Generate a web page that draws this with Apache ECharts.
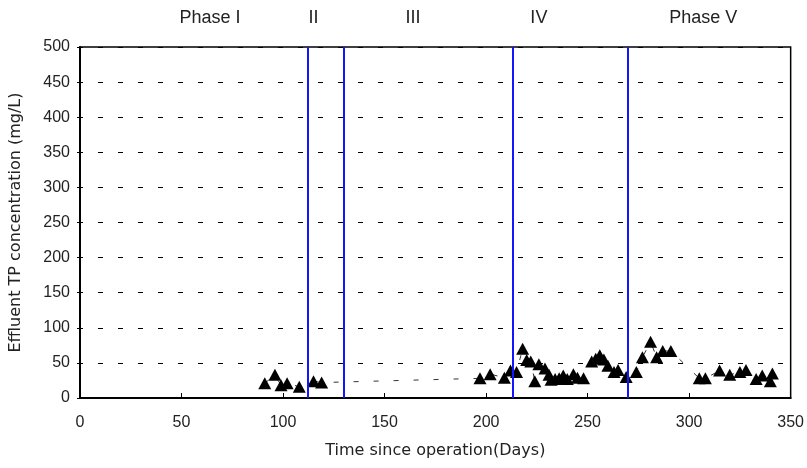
<!DOCTYPE html>
<html>
<head>
<meta charset="utf-8">
<script src="https://cdn.jsdelivr.net/npm/echarts@6/dist/echarts.min.js"></script>
<style>
html,body{margin:0;padding:0;background:#fff;}
#main{width:807px;height:468px;}
</style>
</head>
<body>
<div id="main"></div>
<script>
// Data (day, effluent TP mg/L)
var days = [91,96,99,102,108,115,119,
  197,202,209,212,215,218,220,222,224,226,229,231,232,234,236,238,240,243,245,248,
  252,254,256,258,260,263,265,269,274,277,281,284,287,291,
  305,308,315,320,325,328,333,336,340,341];
var tp = [21,33,18,21,16,24,22,
  28,34,29,39,37,70,54,52,24,48,42,33,26,27,28,32,27,34,29,28,
  52,56,61,55,46,37,40,30,37,58,80,58,67,67,
  28,28,39,33,37,40,27,32,24,35];
var phaseBoundaries = [112,130,213,270];
var phaseLabels = ['Phase I','II','III','IV','Phase V'];
var phaseLabelDays = [64,115,164,226,307];
var xTicks = [0,50,100,150,200,250,300,350];
var yTicks = [0,50,100,150,200,250,300,350,400,450,500];

var points = days.map(function(d,i){return [d,tp[i]];});

var chart = echarts.init(document.getElementById('main'), null, {renderer:'canvas'});
var option = {
  animation:false,
  backgroundColor:'#fff',
  grid:{left:77,right:14,top:47,bottom:70,show:true,borderColor:'#000',borderWidth:1.5,backgroundColor:'transparent'},
  xAxis:{
    type:'value',min:xTicks[0],max:xTicks[xTicks.length-1],interval:50,
    name:'Time since operation(Days)',nameLocation:'middle',nameGap:45,
    nameTextStyle:{fontFamily:'DejaVu Sans',fontSize:16,color:'#222'},
    axisLine:{show:true,onZero:false,lineStyle:{color:'#000',width:2}},
    axisTick:{show:true,inside:true,length:5,lineStyle:{color:'#000',width:1}},
    axisLabel:{fontFamily:'Liberation Sans',fontSize:16,color:'#222',margin:17},
    splitLine:{show:false}
  },
  yAxis:{
    type:'value',min:yTicks[0],max:yTicks[yTicks.length-1],interval:50,
    name:'Effluent TP concentration (mg/L)',nameLocation:'middle',nameGap:56,nameRotate:90,
    nameTextStyle:{fontFamily:'DejaVu Sans',fontSize:16,color:'#222'},
    axisLine:{show:true,lineStyle:{color:'#000',width:2}},
    axisTick:{show:true,inside:false,length:3,lineStyle:{color:'#000'}},
    axisLabel:{fontFamily:'Liberation Sans',fontSize:16,color:'#222',margin:10},
    splitLine:{show:true,lineStyle:{color:'#000',width:1,type:[5,15],dashOffset:2}}
  },
  series:[{
    type:'line',
    data:points,
    symbol:'triangle',
    symbolSize:[13,12],
    itemStyle:{color:'#000'},
    lineStyle:{color:'#333',width:1,type:[5,15]},
    z:3,
    markLine:{
      silent:true,
      symbol:['none','none'],
      label:{show:false},
      lineStyle:{color:'#1414ff',width:2,type:'solid'},
      data:phaseBoundaries.map(function(b){return {xAxis:b};})
    }
  }]
};
chart.setOption(option);

var g = phaseLabels.map(function(t,i){
  var p = chart.convertToPixel({gridIndex:0},[phaseLabelDays[i],500]);
  return {type:'text',x:p[0],y:18,style:{text:t,fontFamily:'Liberation Sans',fontSize:18,fill:'#222',align:'center',verticalAlign:'middle'}};
});
chart.setOption({graphic:g});
</script>
</body>
</html>
